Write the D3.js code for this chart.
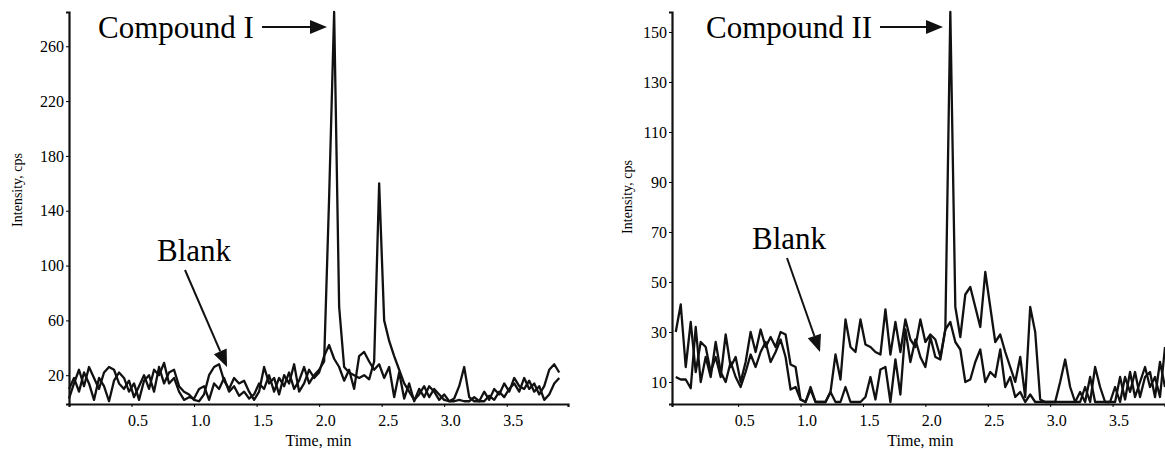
<!DOCTYPE html>
<html>
<head>
<meta charset="utf-8">
<script src="https://cdn.jsdelivr.net/npm/d3@7"></script>
<style>
  body { margin: 0; background: #fff; }
  svg { display: block; }
  svg text { font-family: "Liberation Serif", "Times New Roman", serif; }
</style>
</head>
<body>
<svg width="1165" height="450"></svg>
<script>
// scan times (min), one point every 0.04 min
var sampleStep = 0.04;

// left chromatogram
var leftSample = [3,14,24,12,26,18,10,22,26,24,14,10,16,4,12,20,10,24,20,29,14,18,8,2,4,3,10,12,2,14,10,18,8,12,5,8,3,6,14,10,20,8,18,12,22,10,16,26,14,20,24,30,150,285,70,26,22,20,18,20,17,30,160,60,45,34,24,14,8,2,6,12,4,10,6,2,1,3,12,26,4,1,1,1,5,2,8,4,10,14,8,18,10,14,6,12,24,28,22];
var leftBlank = [10,18,8,22,14,2,18,12,1,16,22,18,8,14,2,16,20,8,26,14,22,24,12,8,6,2,1,6,20,26,28,16,10,18,14,16,8,2,8,26,14,18,6,20,14,28,8,14,24,18,22,34,42,32,26,16,24,10,34,37,30,24,28,18,26,4,22,3,14,1,10,4,12,8,2,6,1,1,2,1,1,4,1,8,2,10,6,14,8,18,12,10,16,8,12,2,6,14,18];
var leftYTicks = [20,60,100,140,180,220,260];

// right chromatogram
var rightSample = [30,41,16,34,14,26,24,14,20,12,29,16,20,10,18,30,22,31,24,28,24,30,29,17,16,3,2,7,2,2,2,6,21,11,35,24,22,35,25,24,22,21,39,21,34,22,35,27,24,35,26,29,27,20,31,158,40,28,45,48,40,32,54,40,26,29,22,16,10,20,4,40,30,3,2,2,2,10,19,8,2,2,8,2,16,8,2,2,2,12,3,14,4,10,16,8,12,4,24];
var rightBlank = [12,11,11,7.5,32,10,20,12,26,14,10,18,12,8,14,21,16,22,26,18,22,27,20,7,8,3,2,8,2,2,2,6,2,2,8,2,2,2,4,12,3,15,16,2,19,5,31,18,27,20,16,28,20,19,31,34,26,23,10,11,18,23,10,14,12,23,8,12,4,6,2,5,2,2,2,2,2,2,2,2,2,6,2,12,2,2,2,2,8,2,12,6,14,4,12,14,4,18,8];
var rightYTicks = [10,30,50,70,90,110,130,150];

var xTicks = [0.5,1.0,1.5,2.0,2.5,3.0,3.5];

var serif = "Liberation Serif, Times New Roman, serif";
var svg = d3.select("svg");

var drawPanel = function(cfg)
{
  var x = d3.scaleLinear().domain(cfg.xDomain).range([cfg.left, cfg.right]);
  var y = d3.scaleLinear().domain(cfg.yDomain).range([404, 12]);
  var g = svg.append("g");

  var line = d3.line()
               .x(function(d, i) { return x(i * sampleStep); })
               .y(function(d) { return y(d); });

  cfg.series.forEach(function(s)
  {
    g.append("path")
     .datum(s)
     .attr("d", line)
     .attr("fill", "none")
     .attr("stroke", "#111")
     .attr("stroke-width", 2.3)
     .attr("stroke-linejoin", "round");
  });

  var xAxis = g.append("g")
     .attr("transform", "translate(0,404)")
     .call(d3.axisBottom(x).tickValues(xTicks).tickFormat(d3.format(".1f")).tickSize(3).tickPadding(8));
  xAxis.attr("font-family", serif).attr("font-size", 16);
  xAxis.select(".domain").attr("stroke-width", 2.2).attr("stroke", "#111");
  xAxis.selectAll("text").attr("dx", 6);

  var yAxis = g.append("g")
     .attr("transform", "translate(" + cfg.left + ",0)")
     .call(d3.axisLeft(y).tickValues(cfg.yTicks).tickSize(3).tickPadding(2));
  yAxis.attr("font-family", serif).attr("font-size", 16);
  yAxis.select(".domain").attr("stroke-width", 2.2).attr("stroke", "#111");

  g.append("text")
   .text("Time, min")
   .attr("x", (x(0) + cfg.right) / 2)
   .attr("y", 446)
   .attr("text-anchor", "middle")
   .attr("font-family", serif)
   .attr("font-size", 16);

  g.append("text")
   .text("Intensity, cps")
   .attr("transform", "translate(" + cfg.yLabelX + "," + cfg.yLabelY + ") rotate(-90)")
   .attr("text-anchor", "middle")
   .attr("font-family", serif)
   .attr("font-size", 14);

  cfg.notes.forEach(function(n)
  {
    g.append("text")
     .text(n.label)
     .attr("x", n.tx)
     .attr("y", n.ty)
     .attr("font-family", serif)
     .attr("font-size", 31);
    var dx = n.x2 - n.x1, dy = n.y2 - n.y1;
    var len = Math.sqrt(dx * dx + dy * dy);
    var ux = dx / len, uy = dy / len;
    var hl = 17, hw = 7;
    var bx = n.x2 - ux * hl, by = n.y2 - uy * hl;
    g.append("line")
     .attr("x1", n.x1).attr("y1", n.y1)
     .attr("x2", bx).attr("y2", by)
     .attr("stroke", "#111").attr("stroke-width", 2);
    g.append("path")
     .attr("d", "M" + n.x2 + "," + n.y2 +
                "L" + (bx - uy * hw) + "," + (by + ux * hw) +
                "L" + (bx + uy * hw) + "," + (by - ux * hw) + "Z")
     .attr("fill", "#111");
  });
};

drawPanel({
  left: 69, right: 568,
  xDomain: [0, 3.99],
  yDomain: [-1, 285],
  yTicks: leftYTicks,
  series: [leftBlank, leftSample],
  yLabelX: 22, yLabelY: 190,
  notes: [
    {label: "Compound I", tx: 98, ty: 38, x1: 262, y1: 27, x2: 327, y2: 27},
    {label: "Blank", tx: 157, ty: 261, x1: 185, y1: 270, x2: 227, y2: 367}
  ]
});

drawPanel({
  left: 672, right: 1165,
  xDomain: [-0.03, 3.92],
  yDomain: [1.2, 158],
  yTicks: rightYTicks,
  series: [rightBlank, rightSample],
  yLabelX: 632, yLabelY: 197,
  notes: [
    {label: "Compound II", tx: 706, ty: 38, x1: 880, y1: 27, x2: 943, y2: 27},
    {label: "Blank", tx: 752, ty: 249, x1: 787, y1: 258, x2: 820, y2: 352}
  ]
});
</script>
</body>
</html>
